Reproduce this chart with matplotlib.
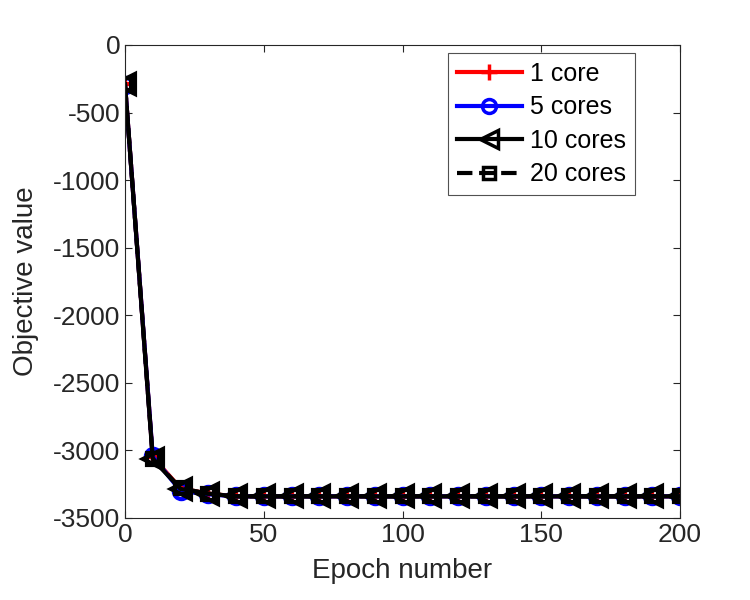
import matplotlib
matplotlib.use("Agg")
import matplotlib.pyplot as plt

plt.rcParams["font.family"] = ["Liberation Sans", "DejaVu Sans"]
plt.rcParams["axes.unicode_minus"] = False

# Datos
epocas = list(range(0, 201, 10))
cola = [-3340] * 17
core1 = [-290, -3050, -3280, -3320] + cola
cores5 = [-295, -3045, -3300, -3325] + cola
cores10 = [-290, -3065, -3285, -3320] + cola
cores20 = [-290, -3060, -3280, -3320] + cola

# nombre, valores, color, estilo, marca, tamaño de marca
series = [
    ("1 core", core1, "red", "-", "+", 11),
    ("5 cores", cores5, "blue", "-", "o", 11),
    ("10 cores", cores10, "black", "-", "<", 15),
    ("20 cores", cores20, "black", "--", "s", 8),
]

fig = plt.figure(figsize=(7.5, 6), dpi=100)
ax = fig.add_axes([0.1667, 0.1367, 0.74, 0.7883])

for nombre, valores, color, estilo, marca, tam in series:
    ax.plot(epocas, valores, color=color, linestyle=estilo, marker=marca,
            linewidth=3, markersize=tam, markeredgewidth=3,
            markerfacecolor="none", label=nombre)

ax.set_xlim(0, 200)
ax.set_ylim(-3500, 0)
ax.set_xticks(range(0, 201, 50))
ax.set_yticks(range(-3500, 1, 500))
ax.tick_params(direction="in", top=True, right=True, labelsize=19,
               colors="#262626", length=5, width=0.8)
for lado in ax.spines.values():
    lado.set_color("#262626")
    lado.set_linewidth(0.8)

ax.set_xlabel("Epoch number", fontsize=20, color="#262626", labelpad=8)
ax.set_ylabel("Objective value", fontsize=20, color="#262626", labelpad=10)

leg = ax.legend(loc="upper right", bbox_to_anchor=(0.919, 0.983), fontsize=18,
                frameon=True, fancybox=False, edgecolor="#262626",
                borderpad=0.35, labelspacing=0.38, handlelength=2.6,
                handletextpad=0.35, borderaxespad=0)
leg.get_frame().set_linewidth(0.8)
for h, tam in zip(leg.legend_handles, [11, 10, 13, 9]):
    h.set_markersize(tam)
    h.set_markeredgewidth(2.5)

fig.savefig("out.png", dpi=100)
